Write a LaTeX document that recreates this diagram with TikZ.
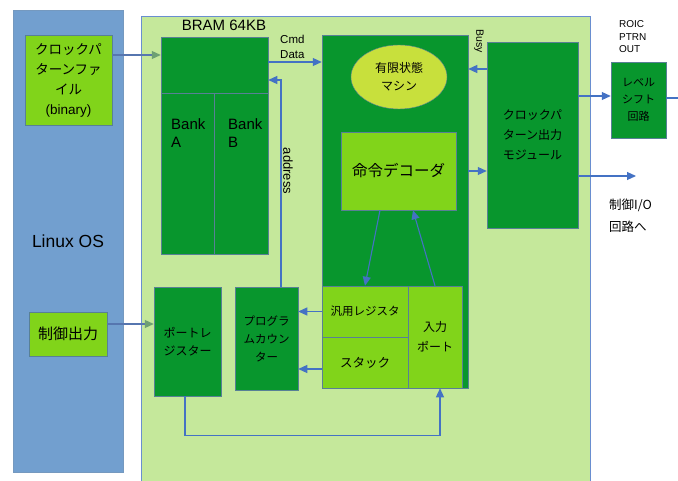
\documentclass[tikz,border=0pt]{standalone}
\usepackage{fontspec}
\setmainfont{Liberation Sans}
\newfontfamily\jp{Noto Sans CJK JP}
\usetikzlibrary{arrows.meta,shapes.geometric}
\definecolor{osblue}{RGB}{114,159,207}
\definecolor{bggreen}{RGB}{197,232,155}
\definecolor{dkgreen}{RGB}{8,150,45}
\definecolor{lime}{RGB}{129,212,26}
\definecolor{fsmcol}{RGB}{200,224,60}
\definecolor{arrblue}{RGB}{68,114,196}
\definecolor{edgecol}{RGB}{88,128,150}
\definecolor{tipgreen}{RGB}{110,160,115}
\tikzset{
  box/.style={draw=edgecol,line width=0.5pt,inner sep=1pt,align=center},
  dkbox/.style={box,fill=dkgreen},
  ltbox/.style={box,fill=lime},
  arr/.style={draw=arrblue,line width=1.1pt,-{Triangle[length=9pt,width=8pt]}},
  garr/.style={draw=arrblue!70!gray,line width=1.1pt,-{Triangle[length=9pt,width=8pt,color=tipgreen]}},
  plain/.style={draw=arrblue,line width=1.1pt},
  jpf/.style n args={2}{font=\jp\fontsize{#1}{#2}\selectfont},
}
\begin{document}
\begin{tikzpicture}[x=1pt,y=-1pt]
\useasboundingbox (0,0) rectangle (678,481);
\fill[white] (0,0) rectangle (678,481);
% Linux OS
\node[box,draw=osblue!80!gray,fill=osblue,minimum width=110,minimum height=462,font=\fontsize{17.5}{20}\selectfont] (linux) at (68,241) {Linux OS};
\node[ltbox,minimum width=87,minimum height=90,font=\fontsize{13.5}{20}\selectfont] (file) at (68.5,80)
  {{\jp クロックパ}\\{\jp ターンファ}\\{\jp イル}\\(binary)};
\node[ltbox,minimum width=78,minimum height=44,jpf={15}{16}] (ctrl) at (68,334) {制御出力};
% FPGA background
\draw[draw=arrblue!80,line width=0.8pt,fill=bggreen] (141,16) rectangle (590,486);
\node[font=\fontsize{15}{15}\selectfont] (bramlbl) at (224,25) {BRAM 64KB};
% BRAM
\node[dkbox,minimum width=107,minimum height=217] (bram) at (214.5,145.5) {};
\coordinate (bh1) at ([yshift=-57pt]bram.north west);
\coordinate (bh2) at ([yshift=-57pt]bram.north east);
\coordinate (bv1) at (bram.north |- bh1);
\draw[draw=edgecol,line width=0.7pt] (bh1) -- (bh2);
\draw[draw=edgecol,line width=0.7pt] (bv1) -- (bram.south);
\node[align=left,anchor=north west,inner sep=0pt,font=\fontsize{15}{18}\selectfont] (banka) at (171,118) {Bank\\A};
\node[align=left,anchor=north west,inner sep=0pt,font=\fontsize{15}{18}\selectfont] (bankb) at (228,118) {Bank\\B};
% CPU
\node[dkbox,minimum width=146,minimum height=353] (cpu) at (395,211.5) {};
\node[ellipse,draw=edgecol,line width=0.4pt,fill=fsmcol,minimum width=96,minimum height=64,inner sep=0pt,align=center,jpf={12}{18}] (fsm) at (399,77)
  {有限状態\\マシン};
\node[ltbox,minimum width=115,minimum height=78,jpf={15.5}{18}] (dec) at (398.5,171) {命令デコーダ};
\node[ltbox,minimum width=86,minimum height=51,jpf={11.5}{14}] (reg) at (365,311.5) {汎用レジスタ};
\node[ltbox,minimum width=86,minimum height=51,jpf={12.5}{14}] (stack) at (365,362.5) {スタック};
\node[ltbox,minimum width=54,minimum height=102,jpf={12}{20}] (inport) at (435,337) {入力\\ポート};
% Clock pattern output module
\node[dkbox,minimum width=91,minimum height=186,jpf={12}{20}] (clk) at (532.5,135)
  {クロックパ\\ターン出力\\モジュール};
\node[dkbox,minimum width=55,minimum height=76,jpf={11}{17}] (lvl) at (638.5,100)
  {レベル\\シフト\\回路};
\node[align=left,anchor=west,inner sep=0pt,font=\fontsize{10}{12.5}\selectfont] (roic) at (619,37) {ROIC\\PTRN\\OUT};
\node[align=left,anchor=west,inner sep=0pt,jpf={12.5}{22}] (ioLbl) at (609,216) {制御I/O\\回路へ};
% Lower boxes
\node[dkbox,minimum width=67,minimum height=109,jpf={12}{18}] (portreg) at (187.5,341.5) {ポートレ\\ジスター};
\node[dkbox,minimum width=63,minimum height=103,jpf={11.5}{18}] (pc) at (266.5,338.5) {プログラ\\ムカウン\\ター};
% Labels
\node[align=left,anchor=west,inner sep=0pt,font=\fontsize{11.5}{15}\selectfont] (cmd) at (280,47) {Cmd\\Data};
\node[rotate=-90,inner sep=0pt,font=\fontsize{13}{13}\selectfont] (addrlbl) at (288,171) {address};
\node[rotate=-90,inner sep=0pt,font=\fontsize{10.5}{10.5}\selectfont] (busylbl) at (479,41) {Busy};
% Connectors
\coordinate (fileout) at ([yshift=25pt]file.east);
\draw[garr] (fileout) -- (fileout -| bram.west);
\coordinate (ctrlout) at ([yshift=10pt]ctrl.east);
\draw[garr] (ctrlout) -- (ctrlout -| portreg.west);
\coordinate (cmdout) at ([yshift=83.5pt]bram.east);
\draw[arr] (cmdout) -- (cmdout -| cpu.west);
\coordinate (addr) at ([xshift=14.5pt]pc.north);
\coordinate (addrin) at ([yshift=65.5pt]bram.east);
\draw[arr] (addr) |- (addrin);
\coordinate (busyout) at ([yshift=66pt]clk.west);
\draw[arr] (busyout) -- (busyout -| cpu.east);
\coordinate (decout) at ([yshift=40.5pt]cpu.east);
\draw[arr] (decout) -- (decout -| clk.west);
\coordinate (ptrn) at ([yshift=39pt]clk.east);
\draw[arr] (ptrn) -- (ptrn -| lvl.west);
\coordinate (edge) at (679,98);
\draw[plain] (lvl.east |- edge) -- (edge);
\coordinate (ioout) at ([yshift=-41pt]clk.east);
\coordinate (ioend) at (636,176);
\draw[arr] (ioout) -- (ioend);
\draw[arr] ([xshift=-18.5pt]dec.south) -- (reg.north);
\draw[arr] (inport.north) -- ([xshift=14.5pt]dec.south);
\draw[arr] (reg.west) -- (reg.west -| pc.east);
\coordinate (stkout) at ([yshift=-6.5pt]stack.west);
\draw[arr] (stkout) -- (stkout -| pc.east);
\coordinate (pbot) at ([xshift=-2.5pt]portreg.south);
\coordinate (pin) at ([xshift=5pt]inport.south);
\draw[arr] (pbot) -- ++(0,39) -| (pin);
\end{tikzpicture}
\end{document}
